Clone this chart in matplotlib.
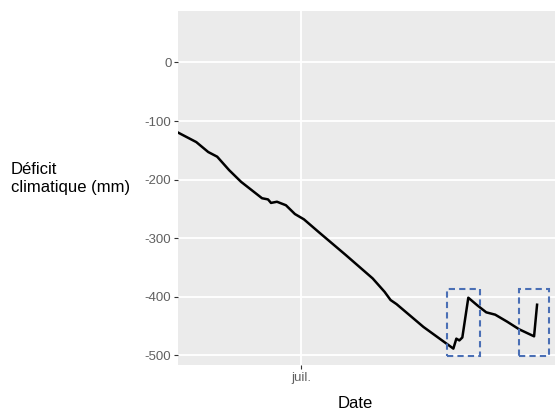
import matplotlib
matplotlib.use("Agg")
import matplotlib.pyplot as plt
import matplotlib.dates as mdates
from matplotlib.patches import Rectangle
import pandas as pd

# cumulative climatic deficit (mm), summer season
dates = ["2019-05-21", "2019-05-27", "2019-05-31", "2019-06-03", "2019-06-07",
         "2019-06-11", "2019-06-18", "2019-06-20", "2019-06-21", "2019-06-23",
         "2019-06-26", "2019-06-29", "2019-07-02", "2019-07-07", "2019-07-16",
         "2019-07-25", "2019-07-29", "2019-07-31", "2019-08-02", "2019-08-11",
         "2019-08-21", "2019-08-22", "2019-08-23", "2019-08-24", "2019-08-26",
         "2019-08-29", "2019-09-01", "2019-09-04", "2019-09-08", "2019-09-12",
         "2019-09-17", "2019-09-18"]
deficit = [-120, -136, -153, -161, -184,
           -204, -232, -234, -240, -238,
           -244, -259, -268, -290, -329,
           -369, -392, -406, -413, -452,
           -489, -472, -475, -470, -402,
           -415, -427, -431, -443, -456,
           -468, -414]

# rain events highlighted with dashed boxes
events = ["2019-08-19", "2019-09-12"]
event_days = [11, 10.2]
y_ticks = [0, -100, -200, -300, -400, -500]
x_tick = "2019-07-01"
x_tick_label = "juil."

plt.rcParams["font.family"] = ["Liberation Sans", "DejaVu Sans"]

x = pd.to_datetime(dates)

fig = plt.figure(figsize=(5.55, 4.12), dpi=100)
ax = fig.add_axes([0.3213, 0.1141, 0.6787, 0.8592])
ax.set_facecolor("#EBEBEB")
for s in ax.spines.values():
    s.set_visible(False)

ax.plot(x, deficit, color="black", lw=1.8, zorder=3)

for start, ndays in zip(events, event_days):
    x0 = mdates.date2num(pd.Timestamp(start)) - 0.1
    ax.add_patch(Rectangle((x0, -502), ndays, 115, fill=False,
                           edgecolor="#4A6FB5", lw=1.5, linestyle=(0, (3, 2)),
                           zorder=4))

ax.set_ylim(-517, 88)
ax.set_xlim(pd.Timestamp(dates[0]), pd.Timestamp("2019-09-24"))
ax.set_yticks(y_ticks)
ax.set_yticklabels([str(v) for v in y_ticks])
ax.set_xticks([pd.Timestamp(x_tick)])
ax.set_xticklabels([x_tick_label])
ax.grid(True, color="white", lw=1.3)
ax.set_axisbelow(True)
ax.tick_params(colors="#333333", labelcolor="#606060", labelsize=9.5,
               length=3, width=0.8, pad=2)

ax.set_xlabel("Date", fontsize=12, color="black")
ax.xaxis.set_label_coords(0.469, -0.088)
fig.text(0.02, 0.567, "Déficit\nclimatique (mm)", fontsize=12,
         ha="left", va="center", linespacing=1.3)

fig.savefig("out.png", dpi=100)
